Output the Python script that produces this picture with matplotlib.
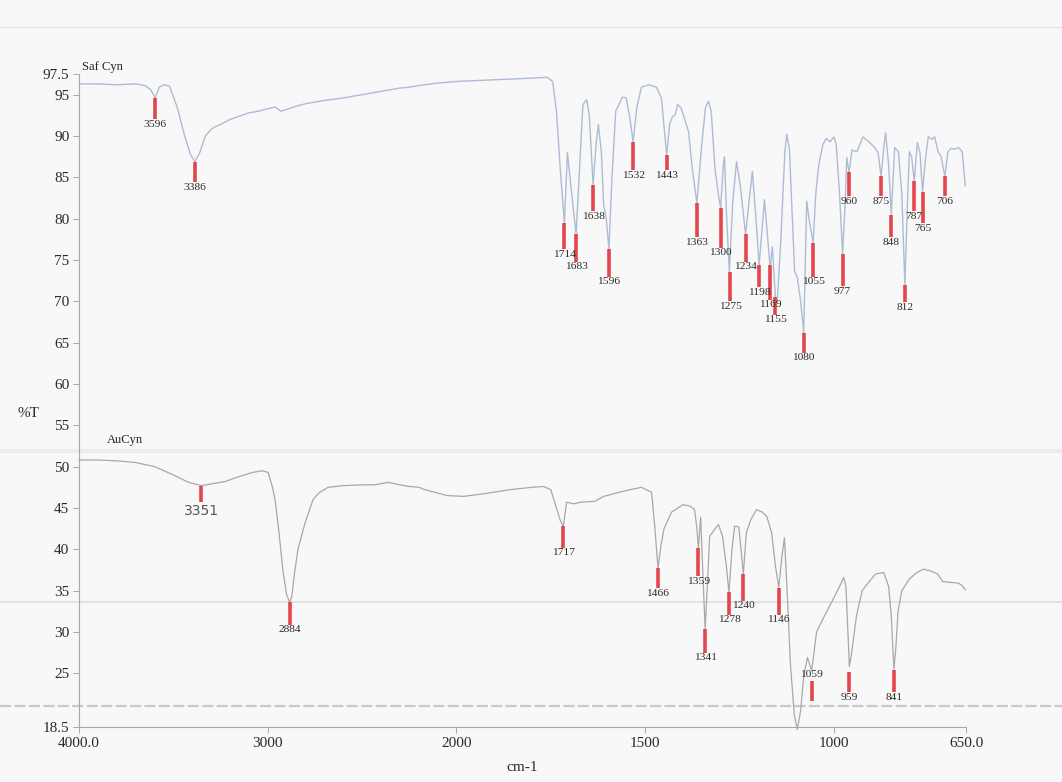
import numpy as np
import matplotlib
matplotlib.use("Agg")
import matplotlib.pyplot as plt
from matplotlib.lines import Line2D

plt.rcParams['font.family'] = ['Liberation Serif', 'DejaVu Serif']

# ---------------- data ----------------
saf_wn = [4000, 3900, 3800, 3700, 3650, 3620, 3596, 3575, 3550, 3520, 3480, 3440, 3410, 3386,
          3360, 3330, 3300, 3280, 3250, 3200, 3150, 3100, 3050, 3000, 2960, 2930, 2900, 2850,
          2800, 2700, 2600, 2500, 2400, 2350, 2300, 2250, 2200, 2100, 2000, 1900, 1800, 1760,
          1745, 1735, 1725, 1714, 1706, 1697, 1683, 1675, 1665, 1655, 1648, 1638, 1630, 1624,
          1616, 1610, 1603, 1596, 1588, 1578, 1560, 1550, 1540, 1532, 1522, 1510, 1490, 1470,
          1457, 1443, 1435, 1428, 1420, 1414, 1405, 1395, 1385, 1375, 1363, 1350, 1340, 1332,
          1325, 1315, 1305, 1300, 1293, 1290, 1284, 1277, 1268, 1258, 1248, 1234, 1225, 1216,
          1208, 1198, 1190, 1184, 1176, 1169, 1163, 1155, 1150, 1140, 1130, 1125, 1118, 1110,
          1104, 1097, 1088, 1080, 1076, 1072, 1066, 1055, 1048, 1040, 1029, 1020, 1010, 1000,
          994, 985, 977, 970, 966, 960, 952, 939, 923, 905, 892, 883, 875, 868, 863, 855, 848,
          839, 829, 820, 812, 805, 800, 794, 787, 779, 772, 765, 758, 750, 740, 733, 724, 716,
          706, 698, 690, 680, 670, 660, 652]
saf_T = [96.3, 96.3, 96.2, 96.3, 96.1, 95.6, 94.6, 95.9, 96.2, 96.0, 93.5, 90.0, 87.8, 86.9,
         88.0, 90.0, 90.8, 91.1, 91.4, 92.0, 92.4, 92.8, 93.0, 93.3, 93.5, 93.0, 93.2, 93.6,
         93.9, 94.3, 94.6, 95.0, 95.4, 95.6, 95.8, 95.9, 96.1, 96.4, 96.6, 96.8, 97.0, 97.1,
         96.6, 93.0, 86.0, 79.5, 88.0, 84.0, 78.1, 85.0, 93.8, 94.4, 92.5, 84.1, 89.0, 91.4,
         88.0, 81.7, 80.0, 76.3, 85.0, 93.0, 94.7, 94.6, 92.0, 89.3, 93.5, 95.9, 96.2, 95.9,
         94.6, 87.7, 91.5, 92.3, 92.6, 93.8, 93.4, 92.0, 90.5, 86.0, 81.9, 89.0, 93.5, 94.2,
         93.0, 86.0, 82.6, 81.3, 86.5, 87.5, 80.0, 73.5, 82.0, 86.9, 84.0, 78.1, 82.0, 85.7,
         81.0, 74.4, 79.0, 82.3, 78.0, 74.0, 76.6, 70.5, 70.0, 78.0, 88.0, 90.2, 88.5, 80.0,
         73.6, 72.9, 70.0, 66.2, 74.0, 82.1, 80.0, 77.1, 83.0, 86.5, 89.0, 89.7, 89.3, 89.9,
         89.0, 83.0, 75.7, 82.0, 87.4, 85.6, 88.3, 88.1, 89.9, 89.2, 88.6, 88.0, 85.1, 88.5,
         90.4, 86.5, 80.5, 88.6, 88.1, 83.0, 72.0, 82.0, 88.1, 87.5, 84.5, 89.2, 88.0, 83.2,
         87.0, 89.9, 89.6, 89.9, 88.1, 87.5, 85.1, 88.1, 88.5, 88.4, 88.6, 88.1, 84.0]

au_wn = [4000, 3900, 3800, 3700, 3600, 3500, 3420, 3351, 3300, 3226, 3150, 3080, 3030, 2998,
         2975, 2961, 2940, 2920, 2900, 2884, 2872, 2860, 2840, 2802, 2760, 2730, 2680, 2600,
         2500, 2431, 2362, 2300, 2250, 2200, 2166, 2100, 2050, 1981, 1930, 1860, 1800, 1769,
         1750, 1735, 1725, 1717, 1708, 1690, 1670, 1634, 1610, 1560, 1510, 1483, 1475, 1466,
         1458, 1450, 1430, 1400, 1380, 1369, 1363, 1359, 1353, 1348, 1341, 1335, 1329, 1306,
         1295, 1285, 1278, 1270, 1263, 1252, 1246, 1240, 1232, 1220, 1205, 1190, 1178, 1165,
         1155, 1146, 1138, 1131, 1124, 1115, 1105, 1097, 1088, 1080, 1070, 1065, 1059, 1054,
         1046, 1030, 1006, 985, 974, 968, 963, 959, 953, 940, 925, 908, 890, 868, 855, 848,
         841, 836, 830, 820, 800, 780, 763, 745, 725, 712, 690, 670, 660, 652]
au_T = [50.8, 50.8, 50.7, 50.5, 50.0, 49.0, 48.1, 47.7, 47.9, 48.2, 48.8, 49.3, 49.5, 49.3,
        47.5, 46.0, 42.0, 37.5, 34.5, 33.6, 34.3, 36.8, 40.0, 43.2, 46.0, 46.8, 47.5, 47.7,
        47.8, 47.8, 48.1, 47.8, 47.6, 47.5, 47.2, 46.8, 46.5, 46.4, 46.7, 47.2, 47.5, 47.6,
        47.2, 45.0, 43.5, 42.8, 45.7, 45.5, 45.7, 45.8, 46.4, 47.0, 47.5, 46.9, 43.0, 37.7,
        40.5, 42.5, 44.5, 45.4, 45.2, 44.8, 42.5, 40.1, 43.9, 38.0, 30.3, 36.0, 41.6, 43.0,
        41.6, 38.0, 34.8, 40.0, 42.8, 42.7, 40.0, 37.0, 42.0, 43.6, 44.8, 44.5, 44.0, 42.0,
        38.0, 35.4, 39.0, 41.4, 35.0, 26.0, 20.0, 18.2, 20.5, 24.6, 26.9, 26.2, 25.3, 27.0,
        30.0, 31.5, 33.6, 35.5, 36.6, 35.5, 30.0, 25.8, 27.5, 32.0, 35.0, 36.0, 37.0, 37.2,
        35.5, 32.0, 25.5, 28.0, 32.5, 35.0, 36.4, 37.2, 37.6, 37.4, 37.0, 36.1, 36.0, 35.9,
        35.6, 35.1]

saf_peaks = [3596, 3386, 1714, 1683, 1638, 1596, 1532, 1443, 1363, 1300, 1275, 1234, 1198,
             1169, 1155, 1080, 1055, 977, 960, 875, 848, 812, 787, 765, 706]
saf_peak_T = [94.6, 86.9, 79.5, 78.1, 84.1, 76.3, 89.3, 87.7, 81.9, 81.3, 73.5, 78.1, 74.4,
              74.4, 70.5, 66.2, 77.1, 75.7, 85.6, 85.1, 80.5, 72.0, 84.5, 83.2, 85.1]
au_peaks = [3351, 2884, 1717, 1466, 1359, 1341, 1278, 1240, 1146, 1059, 959, 841]
au_peak_T = [47.7, 33.6, 42.8, 37.7, 40.1, 30.3, 34.8, 37.0, 35.3, 24.1, 25.2, 25.4]

x_ticks = [4000, 3000, 2000, 1500, 1000, 650]
x_ticklabels = ['4000.0', '3000', '2000', '1500', '1000', '650.0']
y_ticks = [97.5, 95, 90, 85, 80, 75, 70, 65, 60, 55, 50, 45, 40, 35, 30, 25, 18.5]
y_ticklabels = ['97.5', '95', '90', '85', '80', '75', '70', '65', '60', '55', '50', '45',
                '40', '35', '30', '25', '18.5']

# ---------------- layout (marker bottoms, in %T) ----------------
saf_marker_bottom = [92.0, 84.4, 76.3, 74.8, 80.9, 73.0, 85.9, 85.9, 77.8, 76.5, 70.0, 74.8,
                     71.7, 70.2, 68.4, 63.8, 73.0, 71.8, 82.7, 82.7, 77.8, 69.9, 80.9, 79.5,
                     82.7]
au_marker_bottom = [45.7, 30.9, 40.2, 35.3, 36.8, 27.5, 32.1, 33.8, 32.1, 21.6, 22.7, 22.7]

# ---------------- figure ----------------
fig = plt.figure(figsize=(10.62, 7.82), dpi=100, facecolor='#f8f8f8')
ax = fig.add_axes([79/1062, 1-727/782, (966-79)/1062, (727-74)/782])
ax.set_facecolor('none')


def fwd(x):
    x = np.asarray(x, dtype=float)
    return np.where(x >= 2000, x, 2000 + (x - 2000) * 2.0)


def inv(t):
    t = np.asarray(t, dtype=float)
    return np.where(t >= 2000, t, 2000 + (t - 2000) / 2.0)


ax.set_xscale('function', functions=(fwd, inv))
ax.set_xlim(4000, 650)
ax.set_ylim(18.5, 97.5)

# faint scanner artefact lines across the page
for yy, col, lw, ls in [(27, '#e6e6e6', 1.0, '-'), (451, '#ececec', 3.0, '-'),
                        (602, '#e2e2e2', 1.5, '-'), (706, '#c9c9c9', 1.6, (0, (5, 1.5)))]:
    fig.add_artist(Line2D([0, 1], [1-yy/782, 1-yy/782], transform=fig.transFigure,
                          color=col, lw=lw, zorder=0, linestyle=ls))

ax.plot(saf_wn, saf_T, color='#adbcd5', lw=1.0, zorder=2)
ax.plot(au_wn, au_T, color='#a8a8a8', lw=0.9, zorder=2, clip_on=False)

red = '#e2464c'
ax.vlines(saf_peaks, saf_marker_bottom, saf_peak_T, color=red, lw=2.6, zorder=3)
ax.vlines(au_peaks, au_marker_bottom, au_peak_T, color=red, lw=2.6, zorder=3)

for wn, yb in zip(saf_peaks, saf_marker_bottom):
    ax.text(wn, yb - 0.1, str(wn), ha='center', va='top', fontsize=8.2, color='#2a2a2a',
            zorder=4)
for wn, yb, yt in zip(au_peaks, au_marker_bottom, au_peak_T):
    if wn == 3351:
        ax.text(wn, yb - 0.2, str(wn), ha='center', va='top', fontsize=10, color='#55555f',
                family=['DejaVu Sans'], zorder=4)
    elif wn == 1059:
        ax.text(wn, yt + 0.2, str(wn), ha='center', va='bottom', fontsize=8.2,
                color='#2a2a2a', zorder=4)
    else:
        ax.text(wn, yb - 0.1, str(wn), ha='center', va='top', fontsize=8.2, color='#2a2a2a',
                zorder=4)

ax.text(3985, 97.6, 'Saf Cyn', ha='left', va='bottom', fontsize=9, color='#222222')
ax.text(3850, 52.5, 'AuCyn', ha='left', va='bottom', fontsize=9, color='#222222')

ax.set_xticks(x_ticks)
ax.set_xticklabels(x_ticklabels)
ax.set_yticks(y_ticks)
ax.set_yticklabels(y_ticklabels)
ax.xaxis.set_minor_locator(matplotlib.ticker.NullLocator())
ax.tick_params(axis='both', labelsize=11, colors='#aaaaaa', labelcolor='#2a2a2a',
               length=4, width=0.7, pad=3)
for s in ['top', 'right']:
    ax.spines[s].set_visible(False)
for s in ['left', 'bottom']:
    ax.spines[s].set_color('#a8a8a8')
    ax.spines[s].set_linewidth(0.8)

ax.set_xlabel('cm-1', fontsize=11, color='#2a2a2a', labelpad=8)
fig.text(28/1062, 1-413/782, '%T', ha='center', va='center', fontsize=11, color='#2a2a2a')

fig.savefig('out.png', dpi=100, facecolor=fig.get_facecolor())
